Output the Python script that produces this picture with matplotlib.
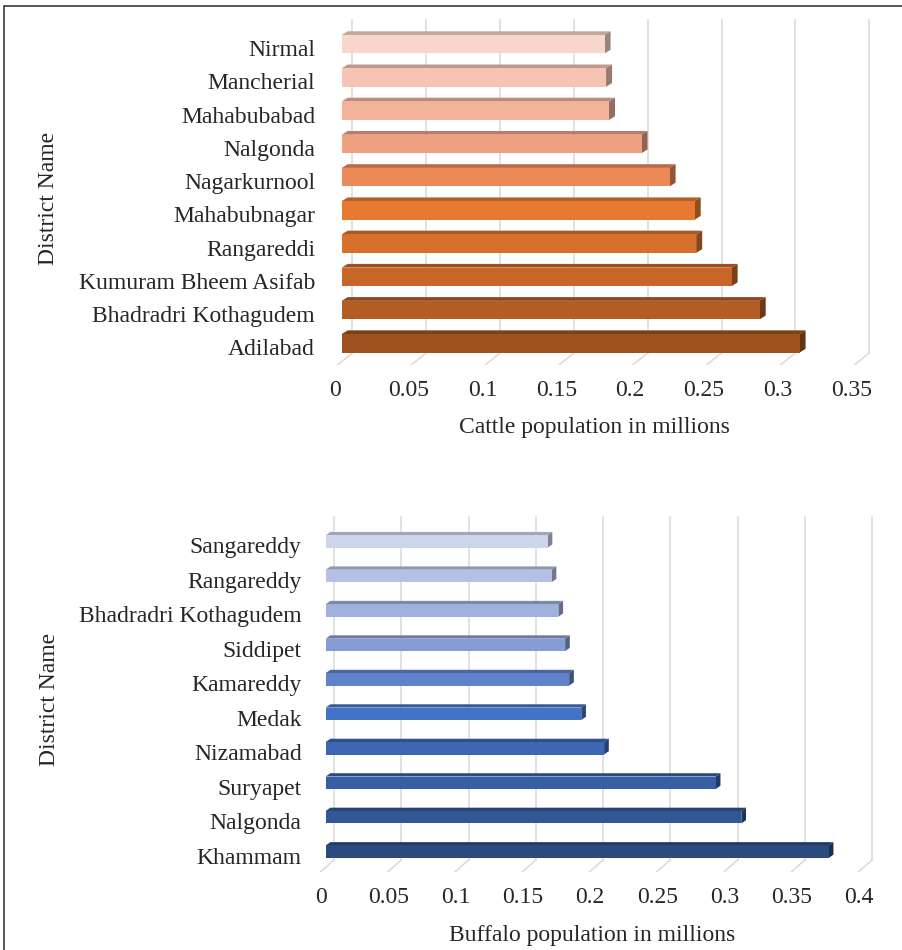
import matplotlib.pyplot as plt
from matplotlib.patches import Polygon, Rectangle
from matplotlib.transforms import ScaledTranslation

plt.rcParams['font.family'] = ['Liberation Serif', 'DejaVu Serif']

# data, listed bottom bar first
cattle_districts = ['Adilabad', 'Bhadradri Kothagudem', 'Kumuram Bheem Asifab',
                    'Rangareddi', 'Mahabubnagar', 'Nagarkurnool', 'Nalgonda',
                    'Mahabubabad', 'Mancherial', 'Nirmal']
cattle_millions = [0.310, 0.283, 0.264, 0.240, 0.239, 0.222, 0.203, 0.181, 0.179, 0.178]
cattle_colors = ['#9E521E', '#B45C23', '#C86629', '#D6712D', '#E77A30',
                 '#EC8A57', '#EFA081', '#F2B29C', '#F6C4B5', '#F8D6CB']
cattle_ticks = [0, 0.05, 0.1, 0.15, 0.2, 0.25, 0.3, 0.35]
cattle_ticklabels = ['0', '0.05', '0.1', '0.15', '0.2', '0.25', '0.3', '0.35']

buffalo_districts = ['Khammam', 'Nalgonda', 'Suryapet', 'Nizamabad', 'Medak',
                     'Kamareddy', 'Siddipet', 'Bhadradri Kothagudem', 'Rangareddy',
                     'Sangareddy']
buffalo_millions = [0.374, 0.309, 0.290, 0.207, 0.190, 0.181, 0.178, 0.173, 0.168, 0.165]
buffalo_colors = ['#2A4A80', '#325696', '#375FA6', '#3C67B3', '#4472C4',
                  '#6182CA', '#869CD4', '#9FB0DA', '#B5C1E3', '#CDD5E9']
buffalo_ticks = [0, 0.05, 0.1, 0.15, 0.2, 0.25, 0.3, 0.35, 0.4]
buffalo_ticklabels = ['0', '0.05', '0.1', '0.15', '0.2', '0.25', '0.3', '0.35', '0.4']

W, H, DPI = 903, 950, 100
FS = 17
TXT = '#262626'


def shade(c, f):
    r, g, b = [int(c[i:i + 2], 16) / 255 for i in (1, 3, 5)]
    return (r * f, g * f, b * f)


# layout of each panel, in pixels from the top-left corner
top_geo = dict(x0=341.7, sx=1477, yc0=343.3, step=33.23, bar_h=18.5,
               ddx=6, ddy=3.7, wall_dx=10.6, floor_back=353, floor_front=365,
               floor_dx=-15, wall_top=20, tick_dx=-6.9, tick_y=393.3,
               ax_left=334.3, ax_right=895, ax_top=11, cat_right=315,
               ylab=(49, 198.5), xlab=(594, 428))
bot_geo = dict(x0=325.7, sx=1345, yc0=851.7, step=34.47, bar_h=12.5,
               ddx=4.7, ddy=3.3, wall_dx=8.3, floor_back=860, floor_front=871.7,
               floor_dx=-13.3, wall_top=516.7, tick_dx=-4.5, tick_y=900,
               ax_left=318, ax_right=885, ax_top=507, cat_right=301.7,
               ylab=(50, 699), xlab=(592, 936))


def bar_panel(fig, names, values, colors, ticks, ticklabels, xlabel, g):
    px2x = lambda p: (p - g['x0']) / g['sx']
    px2y = lambda p: (g['yc0'] - p) / g['step']

    ax = fig.add_axes([g['ax_left'] / W, 1 - g['floor_front'] / H,
                       (g['ax_right'] - g['ax_left']) / W,
                       (g['floor_front'] - g['ax_top']) / H])
    ax.set_xlim(px2x(g['ax_left']), px2x(g['ax_right']))
    ax.set_ylim(px2y(g['floor_front']), px2y(g['ax_top']))
    for s in ax.spines.values():
        s.set_visible(False)

    # back wall and floor grid
    wx = g['wall_dx'] / g['sx']
    fx = g['floor_dx'] / g['sx']
    yb, yf, yt = px2y(g['floor_back']), px2y(g['floor_front']), px2y(g['wall_top'])
    for t in ticks:
        ax.plot([t + wx, t + wx], [yb, yt], color='#D9D9D9', lw=1.1, zorder=1)
        ax.plot([t + wx, t + wx + fx], [yb, yf], color='#D9D9D9', lw=1.1, zorder=1)

    # bars with a shallow 3-D top and side
    y = list(range(len(values)))
    h = g['bar_h'] / g['step'] / 2
    dx = g['ddx'] / g['sx']
    dy = g['ddy'] / g['step']
    for yi, v, c in zip(y, values, colors):
        top = Polygon([(0, yi + h), (v, yi + h), (v + dx, yi + h + dy), (dx, yi + h + dy)],
                      closed=True, facecolor=shade(c, 0.78), edgecolor='none', zorder=2)
        side = Polygon([(v, yi - h), (v + dx, yi - h + dy), (v + dx, yi + h + dy), (v, yi + h)],
                       closed=True, facecolor=shade(c, 0.62), edgecolor='none', zorder=2)
        ax.add_patch(top)
        ax.add_patch(side)
    ax.barh(y, values, height=2 * h, color=colors, edgecolor='none', zorder=3)

    # axis labels
    ax.set_yticks(y, names)
    ax.set_xticks(ticks, ticklabels)
    ax.tick_params(length=0, labelsize=FS, colors=TXT)
    ax.tick_params(axis='y', pad=(g['ax_left'] - g['cat_right']) * 72 / DPI)
    ax.tick_params(axis='x', pad=(g['tick_y'] - 13.2 - g['floor_front']) * 72 / DPI)
    for lab in ax.get_xticklabels():
        lab.set_transform(lab.get_transform() +
                          ScaledTranslation(g['tick_dx'] / DPI, 0, fig.dpi_scale_trans))
    for lab in ax.get_yticklabels():
        lab.set_transform(lab.get_transform() +
                          ScaledTranslation(0, -4 / DPI, fig.dpi_scale_trans))

    fig.text(g['ylab'][0] / W, 1 - g['ylab'][1] / H, 'District Name', rotation=90,
             ha='center', va='center', fontsize=FS, color=TXT)
    fig.text(g['xlab'][0] / W, 1 - g['xlab'][1] / H, xlabel,
             ha='center', va='center', fontsize=FS, color=TXT)
    return ax


fig = plt.figure(figsize=(W / DPI, H / DPI), dpi=DPI)

bar_panel(fig, cattle_districts, cattle_millions, cattle_colors, cattle_ticks,
          cattle_ticklabels, 'Cattle population in millions', top_geo)
bar_panel(fig, buffalo_districts, buffalo_millions, buffalo_colors, buffalo_ticks,
          buffalo_ticklabels, 'Buffalo population in millions', bot_geo)

# outer frame
fig.add_artist(Rectangle((4 / W, -0.05), 1.0, 1.05 - 6 / H, transform=fig.transFigure,
                         fill=False, edgecolor='#3A3A3A', lw=1.2))

fig.savefig('out.png', dpi=DPI)
